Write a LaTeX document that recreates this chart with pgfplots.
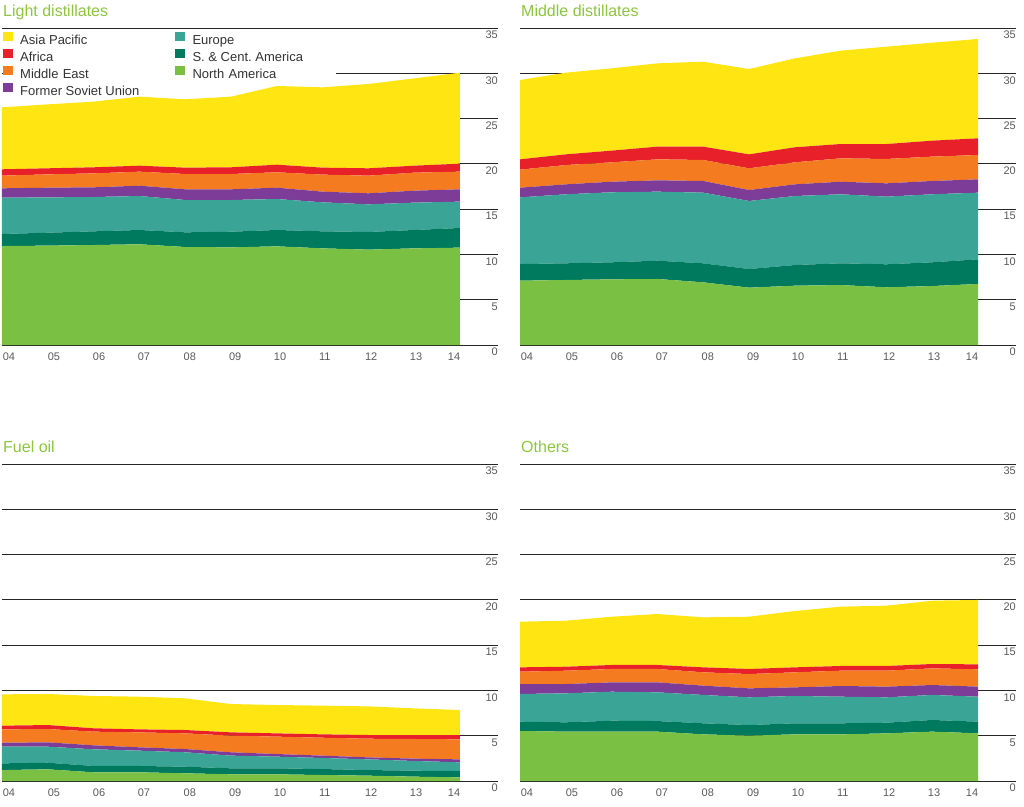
\documentclass[border=0pt]{standalone}
\usepackage{pgfplots}
\pgfplotsset{compat=1.18}
\usepackage{pgfplotstable}
\usepackage{fontspec}
\setmainfont{Liberation Sans}
\definecolor{cAP}{HTML}{FFE512}
\definecolor{cAF}{HTML}{E8202A}
\definecolor{cME}{HTML}{F47B20}
\definecolor{cFSU}{HTML}{7D3C98}
\definecolor{cEU}{HTML}{3AA597}
\definecolor{cSCA}{HTML}{007A5E}
\definecolor{cNA}{HTML}{7AC143}
\definecolor{ctitle}{HTML}{8CC63F}
\definecolor{ctick}{HTML}{5A5A5A}

\pgfplotstableread{
year na sca eu fsu me af ap
2004 10.93 1.33 4.01 1.03 1.40 0.70 6.84
2005 10.97 1.43 3.90 1.07 1.47 0.67 7.06
2006 11.04 1.51 3.79 1.07 1.54 0.67 7.25
2007 11.12 1.58 3.75 1.14 1.55 0.66 7.62
2008 10.82 1.62 3.57 1.18 1.69 0.70 7.55
2009 10.78 1.73 3.50 1.18 1.69 0.74 7.80
2010 10.89 1.81 3.42 1.25 1.70 0.84 8.69
2011 10.67 1.88 3.20 1.18 1.88 0.77 8.87
2012 10.53 1.95 3.05 1.22 1.95 0.81 9.31
2013 10.67 2.03 3.02 1.32 1.99 0.77 9.64
2014 10.75 2.17 2.91 1.36 1.95 0.88 10.05
}\tabLD
\pgfplotstableread{
year na sca eu fsu me af ap
2004 7.10 1.84 7.36 1.07 1.99 1.14 8.76
2005 7.18 1.84 7.62 1.10 2.13 1.18 9.02
2006 7.25 1.88 7.73 1.17 2.14 1.29 9.09
2007 7.29 2.02 7.62 1.25 2.32 1.40 9.20
2008 6.92 2.10 7.80 1.29 2.32 1.47 9.38
2009 6.33 2.06 7.51 1.21 2.40 1.54 9.42
2010 6.55 2.28 7.62 1.29 2.43 1.66 9.82
2011 6.62 2.40 7.62 1.39 2.58 1.58 10.31
2012 6.37 2.54 7.47 1.47 2.69 1.65 10.75
2013 6.51 2.62 7.51 1.47 2.69 1.76 10.82
2014 6.74 2.72 7.36 1.47 2.69 1.84 10.97
}\tabMD
\pgfplotstableread{
year na sca eu fsu me af ap
2004 1.21 0.74 1.84 0.44 1.47 0.41 3.46
2005 1.29 0.73 1.77 0.48 1.47 0.44 3.43
2006 0.96 0.70 1.84 0.44 1.51 0.37 3.57
2007 0.96 0.70 1.69 0.37 1.65 0.33 3.61
2008 0.85 0.73 1.59 0.36 1.73 0.37 3.50
2009 0.74 0.66 1.40 0.37 1.84 0.36 3.13
2010 0.74 0.66 1.29 0.29 1.92 0.36 3.13
2011 0.66 0.66 1.22 0.26 1.98 0.37 3.17
2012 0.59 0.62 1.18 0.22 2.06 0.41 3.16
2013 0.48 0.66 1.07 0.26 2.17 0.44 2.94
2014 0.40 0.70 0.96 0.33 2.21 0.48 2.76
}\tabFO
\pgfplotstableread{
year na sca eu fsu me af ap
2004 5.52 1.03 3.06 1.10 1.36 0.48 5.04
2005 5.45 1.03 3.20 1.03 1.47 0.44 5.08
2006 5.45 1.21 3.20 1.03 1.48 0.44 5.33
2007 5.45 1.17 3.17 1.10 1.48 0.44 5.63
2008 5.15 1.22 3.13 1.03 1.47 0.55 5.52
2009 5.01 1.17 3.06 0.99 1.58 0.56 5.77
2010 5.15 1.22 3.02 0.95 1.66 0.55 6.22
2011 5.15 1.22 2.94 1.18 1.69 0.52 6.55
2012 5.26 1.18 2.80 1.18 1.76 0.52 6.66
2013 5.45 1.29 2.76 1.10 1.84 0.48 6.99
2014 5.26 1.29 2.76 1.11 1.91 0.55 7.11
}\tabOT

\pgfplotsset{
  panel/.style={
    scale only axis, width=496pt, height=317pt,
    xmin=2004, xmax=2014.83, ymin=0, ymax=35,
    ytick={0,5,...,35},
    yticklabel pos=right,
    axis line style={draw=none},
    major tick length=0pt,
    tick style={draw=none},
    ymajorgrids,
    grid style={black!85, line width=0.8pt},
    xtick={2004.15,2005.135,2006.12,2007.10,2008.10,2009.09,2010.07,2011.05,2012.06,2013.04,2013.87},
    xticklabels={04,05,06,07,08,09,10,11,12,13,14},
    ticklabel style={font=\fontsize{11}{13}\selectfont, text=ctick},
    /pgf/number format/assume math mode=true,
    xticklabel style={anchor=north, inner sep=0pt, yshift=-7.5pt},
    yticklabel style={anchor=north east, inner sep=0pt, yshift=-3pt},
    stack plots=y,
    title style={at={(0,1)}, anchor=base west, yshift=6pt, xshift=1pt,
      inner sep=0pt, font=\fontsize{16}{18}\selectfont, text=ctitle},
  },
  area/.style={fill=#1, draw=none},
}

\newcommand{\stackareas}[1]{%
  \addplot[area=cNA] table[x=year,y=na]{#1} \closedcycle;
  \addplot[area=cSCA] table[x=year,y=sca]{#1} \closedcycle;
  \addplot[area=cEU] table[x=year,y=eu]{#1} \closedcycle;
  \addplot[area=cFSU] table[x=year,y=fsu]{#1} \closedcycle;
  \addplot[area=cME] table[x=year,y=me]{#1} \closedcycle;
  \addplot[area=cAF] table[x=year,y=af]{#1} \closedcycle;
  \addplot[area=cAP] table[x=year,y=ap]{#1} \closedcycle;
}

\begin{document}
\begin{tikzpicture}
\path[use as bounding box] (0pt,0pt) rectangle (1024pt,-806pt);

\begin{axis}[panel, at={(2pt,-345pt)}, anchor=south west,
  title={Light distillates},
  legend image code/.code={\fill[white] (0pt,-2.2pt) rectangle (17.3pt,9.5pt);
    \fill[#1] (0pt,0pt) rectangle (10pt,8.5pt);},
  legend columns=2,
  legend cell align=left,
  legend style={at={(0,1)}, anchor=north west, xshift=0.7pt, yshift=-3pt,
    fill=none, draw=none, inner xsep=0pt, inner ysep=0pt,
    font=\fontsize{13}{15}\selectfont, text=black!80,
    row sep=1.7pt, column sep=0pt,
    nodes={inner sep=0pt, text height=9.5pt, text depth=2.2pt}},
]
\addlegendimage{fill=cAP, draw=none}\addlegendentry{Asia Pacific}
\addlegendimage{fill=cEU, draw=none}\addlegendentry{Europe}
\addlegendimage{fill=cAF, draw=none}\addlegendentry{Africa}
\addlegendimage{fill=cSCA, draw=none}\addlegendentry{S.\ \&\ Cent.\ America}
\addlegendimage{fill=cME, draw=none}\addlegendentry[fill=white, text width=155pt]{Middle East}
\addlegendimage{fill=cNA, draw=none}\addlegendentry[fill=white, text width=143pt]{North America}
\addlegendimage{fill=cFSU, draw=none}\addlegendentry{Former Soviet Union}
\stackareas{\tabLD}
\end{axis}

\begin{axis}[panel, at={(520pt,-345pt)}, anchor=south west,
  title={Middle distillates}]
\stackareas{\tabMD}
\end{axis}

\begin{axis}[panel, at={(2pt,-781pt)}, anchor=south west,
  title={Fuel oil}]
\stackareas{\tabFO}
\end{axis}

\begin{axis}[panel, at={(520pt,-781pt)}, anchor=south west,
  title={Others}]
\stackareas{\tabOT}
\end{axis}
\end{tikzpicture}
\end{document}
